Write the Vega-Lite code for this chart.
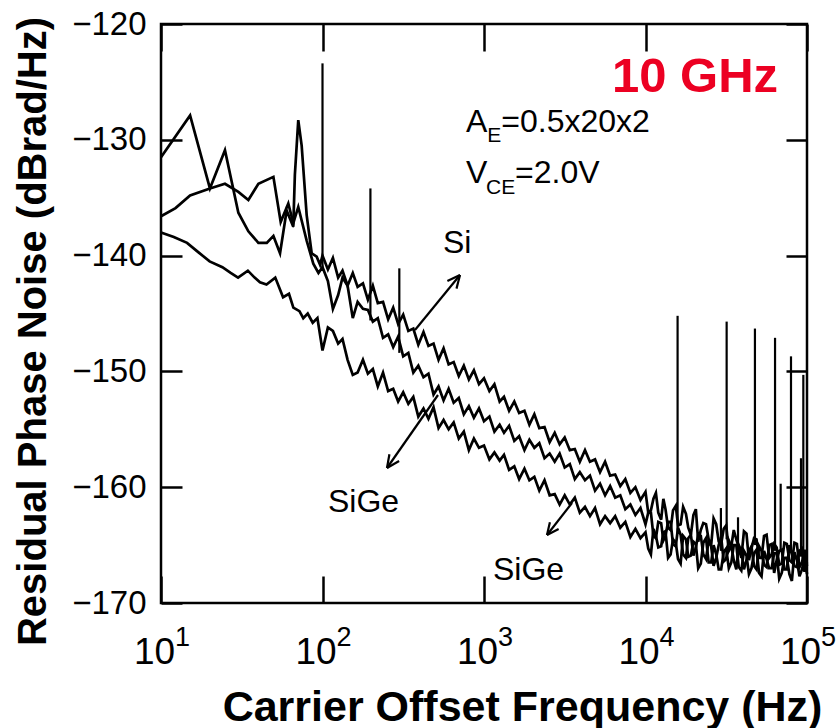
{
  "$schema": "https://vega.github.io/schema/vega-lite/v6.json",
  "width": 646,
  "height": 579,
  "autosize": {"type": "none"},
  "padding": {"left": 161, "top": 24, "right": 30, "bottom": 125},
  "background": "white",
  "config": {"view": {"stroke": "#000", "strokeWidth": 2.5}},
  "datasets": {
    "si": [
      {"f":10,"v":-131.5},{"f":15.14,"v":-127.9},{"f":20.09,"v":-134.2},{"f":24.89,"v":-130.9},{"f":30.13,"v":-136.3},{"f":34.75,"v":-137.9},{"f":40.09,"v":-138.9},{"f":45.19,"v":-138.9},{"f":49.66,"v":-138.3},{"f":54.58,"v":-139.8},{"f":59.98,"v":-136.1},{"f":65.92,"v":-137.5},{"f":67.45,"v":-133.0},{"f":70.79,"v":-128.3},{"f":74.3,"v":-130.5},{"f":79.8,"v":-136.5},{"f":85.7,"v":-139.8},{"f":92.04,"v":-140.1},{"f":96.6,"v":-140.8},
      {"f":100,"v":-140.0},{"f":108,"v":-141.2},{"f":116,"v":-140.2},{"f":125,"v":-141.9},{"f":133,"v":-141.3},{"f":143,"v":-142.6},{"f":154,"v":-141.5},{"f":165,"v":-142.7},{"f":178,"v":-142.4},{"f":191,"v":-143.8},{"f":205,"v":-142.6},{"f":220,"v":-144.1},{"f":237,"v":-144.0},{"f":255,"v":-145.5},{"f":274,"v":-144.5},{"f":294,"v":-145.9},{"f":316,"v":-145.1},{"f":340,"v":-146.5},{"f":365,"v":-146.3},{"f":392,"v":-147.7},{"f":422,"v":-146.6},{"f":453,"v":-147.8},{"f":487,"v":-147.6},{"f":523,"v":-149.0},{"f":562,"v":-148.0},{"f":604,"v":-149.4},{"f":649,"v":-149.2},{"f":698,"v":-150.4},{"f":750,"v":-149.5},{"f":806,"v":-150.7},{"f":866,"v":-149.9},{"f":931,"v":-151.1},
      {"f":1000,"v":-150.6},{"f":1080,"v":-151.7},{"f":1160,"v":-151.1},{"f":1250,"v":-152.6},{"f":1330,"v":-152.2},{"f":1430,"v":-153.4},{"f":1540,"v":-152.6},{"f":1650,"v":-153.6},{"f":1780,"v":-153.4},{"f":1910,"v":-154.6},{"f":2050,"v":-153.7},{"f":2200,"v":-154.9},{"f":2370,"v":-154.8},{"f":2550,"v":-156.1},{"f":2740,"v":-155.3},{"f":2940,"v":-156.3},{"f":3160,"v":-155.7},{"f":3400,"v":-156.8},{"f":3650,"v":-156.7},{"f":3920,"v":-157.8},{"f":4220,"v":-156.8},{"f":4530,"v":-157.8},{"f":4870,"v":-157.6},{"f":5230,"v":-158.7},{"f":5620,"v":-157.8},{"f":6040,"v":-159.0},{"f":6490,"v":-158.9},{"f":6980,"v":-159.9},{"f":7500,"v":-159.3},{"f":8060,"v":-160.5},{"f":8660,"v":-160.0},{"f":9310,"v":-161.1},
      {"f":10000,"v":-160.4},{"f":10800,"v":-162.0},{"f":11600,"v":-160.5},{"f":12500,"v":-162.8},{"f":13300,"v":-161.9},{"f":14300,"v":-163.7},{"f":15400,"v":-161.6},{"f":16500,"v":-163.2},{"f":17800,"v":-162.3},{"f":19100,"v":-164.1},{"f":20500,"v":-161.9},{"f":22000,"v":-163.7},{"f":23700,"v":-163.2},{"f":25500,"v":-165.0},{"f":27400,"v":-163.2},{"f":29400,"v":-164.9},{"f":31600,"v":-163.3},{"f":34000,"v":-165.1},{"f":36500,"v":-164.5},{"f":39200,"v":-166.1},{"f":42200,"v":-164.0},{"f":45300,"v":-165.3},{"f":48700,"v":-164.5},{"f":52300,"v":-166.1},{"f":56200,"v":-164.1},{"f":60400,"v":-165.8},{"f":64900,"v":-165.2},{"f":69800,"v":-166.6},{"f":75000,"v":-164.9},{"f":80600,"v":-166.5},{"f":86600,"v":-164.9},{"f":93100,"v":-166.5},{"f":100000,"v":-166.8},
      {"f":10400,"v":-162.2},{"f":11200,"v":-161.0},{"f":12000,"v":-162.2},{"f":12900,"v":-161.0},{"f":13800,"v":-163.5},{"f":14800,"v":-162.0},{"f":15900,"v":-163.3},{"f":17100,"v":-161.7},{"f":18400,"v":-163.5},{"f":19800,"v":-162.4},{"f":21200,"v":-164.7},{"f":22800,"v":-163.1},{"f":24600,"v":-164.5},{"f":26400,"v":-162.7},{"f":28400,"v":-164.7},{"f":30500,"v":-163.6},{"f":32800,"v":-165.5},{"f":35200,"v":-163.7},{"f":37800,"v":-165.2},{"f":40700,"v":-163.8},{"f":43700,"v":-166.3},{"f":47000,"v":-164.4},{"f":50500,"v":-166.1},{"f":54200,"v":-164.2},{"f":58300,"v":-166.1},{"f":62600,"v":-164.9},{"f":67300,"v":-166.7},{"f":72400,"v":-164.8},{"f":77800,"v":-166.3},{"f":83600,"v":-164.8},{"f":89800,"v":-166.9},{"f":96500,"v":-165.4}
    ],
    "sige1": [
      {"f":10,"v":-136.6},{"f":12.3,"v":-135.9},{"f":15.14,"v":-134.8},{"f":20.09,"v":-134.2},{"f":24.89,"v":-133.8},{"f":30.13,"v":-134.5},{"f":34.75,"v":-135.2},{"f":40.09,"v":-133.8},{"f":49.66,"v":-133.2},{"f":55.1,"v":-137.1},{"f":61.4,"v":-135.5},{"f":65.92,"v":-137.2},{"f":70.79,"v":-135.8},{"f":79.8,"v":-138.7},{"f":87.7,"v":-140.7},{"f":94.4,"v":-141.5},
      {"f":100,"v":-141.0},{"f":108,"v":-142.2},{"f":116,"v":-144.6},{"f":125,"v":-143.4},{"f":133,"v":-141.9},{"f":143,"v":-142.6},{"f":154,"v":-145.4},{"f":165,"v":-144.0},{"f":178,"v":-144.6},{"f":191,"v":-144.7},{"f":205,"v":-145.7},{"f":220,"v":-145.4},{"f":237,"v":-147.1},{"f":255,"v":-146.8},{"f":274,"v":-147.9},{"f":294,"v":-147.0},{"f":316,"v":-148.7},{"f":340,"v":-148.4},{"f":365,"v":-150.1},{"f":392,"v":-149.5},{"f":422,"v":-150.5},{"f":453,"v":-150.2},{"f":487,"v":-152.0},{"f":523,"v":-151.3},{"f":562,"v":-152.5},{"f":604,"v":-151.5},{"f":649,"v":-152.7},{"f":698,"v":-152.3},{"f":750,"v":-153.7},{"f":806,"v":-153.0},{"f":866,"v":-154.0},{"f":931,"v":-153.2},
      {"f":1000,"v":-154.3},{"f":1080,"v":-153.9},{"f":1160,"v":-155.2},{"f":1250,"v":-154.6},{"f":1330,"v":-155.3},{"f":1430,"v":-154.7},{"f":1540,"v":-156.0},{"f":1650,"v":-155.6},{"f":1780,"v":-156.8},{"f":1910,"v":-155.9},{"f":2050,"v":-156.6},{"f":2200,"v":-156.2},{"f":2370,"v":-157.5},{"f":2550,"v":-157.1},{"f":2740,"v":-157.8},{"f":2940,"v":-157.1},{"f":3160,"v":-158.3},{"f":3400,"v":-158.0},{"f":3650,"v":-159.3},{"f":3920,"v":-158.7},{"f":4220,"v":-159.4},{"f":4530,"v":-159.0},{"f":4870,"v":-160.3},{"f":5230,"v":-159.7},{"f":5620,"v":-160.7},{"f":6040,"v":-159.9},{"f":6490,"v":-160.9},{"f":6980,"v":-160.7},{"f":7500,"v":-161.9},{"f":8060,"v":-161.5},{"f":8660,"v":-162.4},{"f":9310,"v":-161.8},
      {"f":10000,"v":-163.2},{"f":10800,"v":-162.2},{"f":11600,"v":-164.4},{"f":12500,"v":-163.1},{"f":13300,"v":-164.2},{"f":14300,"v":-163.0},{"f":15400,"v":-165.1},{"f":16500,"v":-164.1},{"f":17800,"v":-166.1},{"f":19100,"v":-164.1},{"f":20500,"v":-165.2},{"f":22000,"v":-164.2},{"f":23700,"v":-166.2},{"f":25500,"v":-165.1},{"f":27400,"v":-166.1},{"f":29400,"v":-164.3},{"f":31600,"v":-166.2},{"f":34000,"v":-165.1},{"f":36500,"v":-167.1},{"f":39200,"v":-165.5},{"f":42200,"v":-166.3},{"f":45300,"v":-165.1},{"f":48700,"v":-167.1},{"f":52300,"v":-165.5},{"f":56200,"v":-166.9},{"f":60400,"v":-164.9},{"f":64900,"v":-166.3},{"f":69800,"v":-165.4},{"f":75000,"v":-167.1},{"f":80600,"v":-165.8},{"f":86600,"v":-166.9},{"f":93100,"v":-165.3},{"f":100000,"v":-166.5},
      {"f":10400,"v":-162.2},{"f":11200,"v":-164.2},{"f":12000,"v":-163.0},{"f":12900,"v":-164.6},{"f":13800,"v":-163.0},{"f":14800,"v":-164.9},{"f":15900,"v":-163.5},{"f":17100,"v":-165.8},{"f":18400,"v":-164.4},{"f":19800,"v":-165.9},{"f":21200,"v":-164.1},{"f":22800,"v":-165.8},{"f":24600,"v":-164.6},{"f":26400,"v":-166.8},{"f":28400,"v":-165.0},{"f":30500,"v":-166.4},{"f":32800,"v":-164.6},{"f":35200,"v":-166.3},{"f":37800,"v":-165.0},{"f":40700,"v":-167.1},{"f":43700,"v":-165.5},{"f":47000,"v":-166.8},{"f":50500,"v":-165.1},{"f":54200,"v":-166.7},{"f":58300,"v":-165.0},{"f":62600,"v":-167.4},{"f":67300,"v":-165.5},{"f":72400,"v":-167.1},{"f":77800,"v":-165.0},{"f":83600,"v":-166.8},{"f":89800,"v":-165.5},{"f":96500,"v":-167.3}
    ],
    "sige2": [
      {"f":10,"v":-138.0},{"f":12,"v":-138.4},{"f":14.5,"v":-138.9},{"f":17,"v":-139.7},{"f":20,"v":-140.5},{"f":24,"v":-141.0},{"f":27,"v":-141.5},{"f":30,"v":-141.9},{"f":34.5,"v":-141.3},{"f":38,"v":-141.9},{"f":41,"v":-142.3},{"f":45,"v":-142.5},{"f":51,"v":-141.9},{"f":57,"v":-143.6},{"f":62,"v":-143.3},{"f":66,"v":-144.5},{"f":72,"v":-144.8},{"f":76,"v":-145.4},{"f":81,"v":-145.0},{"f":87,"v":-145.8},{"f":93,"v":-145.4},
      {"f":100,"v":-148.2},{"f":108,"v":-146.2},{"f":116,"v":-146.5},{"f":125,"v":-147.6},{"f":133,"v":-147.2},{"f":143,"v":-149.0},{"f":154,"v":-150.3},{"f":165,"v":-150.1},{"f":178,"v":-149.0},{"f":191,"v":-150.2},{"f":205,"v":-149.8},{"f":220,"v":-151.3},{"f":237,"v":-150.1},{"f":255,"v":-151.7},{"f":274,"v":-151.5},{"f":294,"v":-152.6},{"f":316,"v":-151.8},{"f":340,"v":-152.8},{"f":365,"v":-152.2},{"f":392,"v":-153.9},{"f":422,"v":-153.2},{"f":453,"v":-154.1},{"f":487,"v":-153.1},{"f":523,"v":-154.9},{"f":562,"v":-154.2},{"f":604,"v":-155.0},{"f":649,"v":-154.4},{"f":698,"v":-155.8},{"f":750,"v":-155.2},{"f":806,"v":-156.8},{"f":866,"v":-155.8},{"f":931,"v":-156.6},
      {"f":1000,"v":-156.4},{"f":1080,"v":-157.6},{"f":1160,"v":-157.0},{"f":1250,"v":-157.7},{"f":1330,"v":-157.2},{"f":1430,"v":-158.5},{"f":1540,"v":-158.2},{"f":1650,"v":-159.3},{"f":1780,"v":-158.4},{"f":1910,"v":-159.4},{"f":2050,"v":-159.1},{"f":2200,"v":-160.3},{"f":2370,"v":-159.4},{"f":2550,"v":-160.7},{"f":2740,"v":-160.6},{"f":2940,"v":-161.5},{"f":3160,"v":-160.7},{"f":3400,"v":-161.5},{"f":3650,"v":-160.9},{"f":3920,"v":-162.2},{"f":4220,"v":-161.7},{"f":4530,"v":-162.5},{"f":4870,"v":-161.8},{"f":5230,"v":-163.2},{"f":5620,"v":-162.5},{"f":6040,"v":-163.1},{"f":6490,"v":-162.5},{"f":6980,"v":-163.5},{"f":7500,"v":-163.0},{"f":8060,"v":-164.3},{"f":8660,"v":-163.6},{"f":9310,"v":-164.4},
      {"f":10000,"v":-163.9},{"f":10800,"v":-165.8},{"f":11600,"v":-164.2},{"f":12500,"v":-165.1},{"f":13300,"v":-163.8},{"f":14300,"v":-165.8},{"f":15400,"v":-164.8},{"f":16500,"v":-166.6},{"f":17800,"v":-164.5},{"f":19100,"v":-165.9},{"f":20500,"v":-164.9},{"f":22000,"v":-166.6},{"f":23700,"v":-164.4},{"f":25500,"v":-166.5},{"f":27400,"v":-165.8},{"f":29400,"v":-167.1},{"f":31600,"v":-165.3},{"f":34000,"v":-166.5},{"f":36500,"v":-165.0},{"f":39200,"v":-167.2},{"f":42200,"v":-165.9},{"f":45300,"v":-167.0},{"f":48700,"v":-165.4},{"f":52300,"v":-167.7},{"f":56200,"v":-166.2},{"f":60400,"v":-167.0},{"f":64900,"v":-165.7},{"f":69800,"v":-167.4},{"f":75000,"v":-166.1},{"f":80600,"v":-168.1},{"f":86600,"v":-166.3},{"f":93100,"v":-167.1},{"f":100000,"v":-167.5},
      {"f":10400,"v":-165.3},{"f":11200,"v":-163.6},{"f":12000,"v":-165.2},{"f":12900,"v":-163.9},{"f":13800,"v":-166.1},{"f":14800,"v":-164.5},{"f":15900,"v":-166.2},{"f":17100,"v":-164.2},{"f":18400,"v":-166.0},{"f":19800,"v":-164.7},{"f":21200,"v":-167.0},{"f":22800,"v":-164.8},{"f":24600,"v":-166.5},{"f":26400,"v":-165.0},{"f":28400,"v":-167.1},{"f":30500,"v":-165.6},{"f":32800,"v":-167.0},{"f":35200,"v":-165.0},{"f":37800,"v":-166.9},{"f":40700,"v":-165.5},{"f":43700,"v":-167.5},{"f":47000,"v":-165.7},{"f":50500,"v":-167.4},{"f":54200,"v":-165.5},{"f":58300,"v":-167.0},{"f":62600,"v":-165.7},{"f":67300,"v":-167.9},{"f":72400,"v":-166.1},{"f":77800,"v":-167.5},{"f":83600,"v":-165.6},{"f":89800,"v":-167.7},{"f":96500,"v":-166.1}
    ],
    "spurs": [
      {"f":100,"v":-123.4,"v2":-141.0},{"f":198,"v":-134.2,"v2":-145.6},{"f":299,"v":-141.1,"v2":-148.4},
      {"f":15800,"v":-145.2,"v2":-164.0},{"f":29300,"v":-161.8,"v2":-165.5},{"f":31800,"v":-145.7,"v2":-164.5},{"f":37400,"v":-162.6,"v2":-165.8},{"f":47600,"v":-146.3,"v2":-165.0},{"f":63400,"v":-147.1,"v2":-165.5},{"f":68700,"v":-159.7,"v2":-165.5},{"f":79600,"v":-148.7,"v2":-165.5},{"f":91800,"v":-157.5,"v2":-166.0},{"f":94900,"v":-150.3,"v2":-166.0}
    ],
    "arrows": [
      {"f":373.9,"v":-146.425,"f2":710.3,"v2":-141.675},
      {"f":710.3,"v":-141.675,"f2":593.4,"v2":-142.202},
      {"f":710.3,"v":-141.675,"f2":675.5,"v2":-142.85},
      {"f":519.0,"v":-152.038,"f2":250.8,"v2":-158.342},
      {"f":250.8,"v":-158.342,"f2":298.1,"v2":-157.737},
      {"f":250.8,"v":-158.342,"f2":259.6,"v2":-157.15},
      {"f":3506,"v":-161.364,"f2":2455,"v2":-164.128},
      {"f":2455,"v":-164.128,"f2":2897,"v2":-163.618},
      {"f":2455,"v":-164.128,"f2":2559,"v2":-163.031}
    ],
    "labels": [
      {"f":557,"v":-139.78,"t":"Si"},
      {"f":108.1,"v":-162.14,"t":"SiGe"},
      {"f":1137,"v":-168.01,"t":"SiGe"},
      {"f":773.6,"v":-129.33,"t":"A"},
      {"f":1280,"v":-129.33,"t":"=0.5x20x2"},
      {"f":773.6,"v":-133.73,"t":"V"},
      {"f":1556,"v":-133.73,"t":"=2.0V"}
    ],
    "subs": [
      {"f":1048,"v":-130.19,"t":"E"},
      {"f":1029,"v":-134.68,"t":"CE"}
    ],
    "freq": [
      {"f":6203,"v":-125.87,"t":"10 GHz"}
    ]
  },
  "layer": [
    {
      "encoding": {
        "x": {
          "field": "f", "type": "quantitative",
          "scale": {"type": "log", "domain": [10, 100000], "nice": false},
          "axis": {
            "orient": "bottom", "offset": -27, "values": [10, 100, 1000, 10000, 100000],
            "labelExpr": "'10'",
            "labelFont": "Liberation Sans",
            "labelFontSize": 37, "labelColor": "#000", "labelPadding": 31, "labelOffset": -7,
            "labelFlush": false, "labelOverlap": false,
            "tickSize": 27, "tickWidth": 2.5, "tickColor": "#000",
            "domain": false, "grid": false,
            "title": "Carrier Offset Frequency (Hz)",
            "titleFont": "Liberation Sans", "titleFontWeight": "bold", "titleFontSize": 43, "titleColor": "#000",
            "titleX": 361, "titleY": 144, "titleAlign": "center", "titleBaseline": "alphabetic"
          }
        },
        "y": {
          "field": "v", "type": "quantitative",
          "scale": {"domain": [-170, -120], "nice": false, "zero": false},
          "axis": {
            "orient": "left", "offset": -21, "values": [-170, -160, -150, -140, -130, -120], "format": "d",
            "labelFont": "Liberation Sans",
            "labelFontSize": 33, "labelColor": "#000", "labelPadding": 15,
            "labelFlush": false, "labelOverlap": false,
            "tickSize": 21, "tickWidth": 2.5, "tickColor": "#000",
            "domain": false, "grid": false,
            "title": "Residual Phase Noise (dBrad/Hz)",
            "titleFont": "Liberation Sans", "titleFontWeight": "bold", "titleFontSize": 40, "titleColor": "#000",
            "titleX": -149, "titleY": 307, "titleAngle": -90, "titleAlign": "center", "titleBaseline": "middle"
          }
        }
      },
      "layer": [
        {"data": {"name": "si"}, "mark": {"type": "line", "color": "#000", "strokeWidth": 2.7}},
        {"data": {"name": "sige1"}, "mark": {"type": "line", "color": "#000", "strokeWidth": 2.7}},
        {"data": {"name": "sige2"}, "mark": {"type": "line", "color": "#000", "strokeWidth": 2.7}},
        {"data": {"name": "spurs"}, "mark": {"type": "rule", "color": "#000", "strokeWidth": 2.2},
         "encoding": {"y2": {"field": "v2"}}},
        {"data": {"name": "arrows"}, "mark": {"type": "rule", "color": "#000", "strokeWidth": 2.2},
         "encoding": {"x2": {"field": "f2"}, "y2": {"field": "v2"}}},
        {"data": {"name": "labels"}, "mark": {"type": "text", "align": "left", "baseline": "alphabetic", "font": "Liberation Sans", "fontSize": 32, "color": "#000"},
         "encoding": {"text": {"field": "t"}}},
        {"data": {"name": "subs"}, "mark": {"type": "text", "align": "left", "baseline": "alphabetic", "font": "Liberation Sans", "fontSize": 21, "color": "#000"},
         "encoding": {"text": {"field": "t"}}},
        {"data": {"name": "freq"}, "mark": {"type": "text", "align": "left", "baseline": "alphabetic", "font": "Liberation Sans", "fontWeight": "bold", "fontSize": 49, "color": "#ec0022"},
         "encoding": {"text": {"field": "t"}}}
      ]
    },
    {
      "data": {"values": [{"f": 10, "v": -170}]},
      "mark": {"type": "point", "opacity": 0},
      "encoding": {
        "x": {
          "field": "f", "type": "quantitative",
          "scale": {"type": "log", "domain": [10, 100000], "nice": false},
          "axis": {"orient": "top", "offset": -27, "values": [10, 100, 1000, 10000, 100000], "labels": false, "title": null,
                   "tickSize": 27, "tickWidth": 2.5, "tickColor": "#000", "domain": false, "grid": false}
        },
        "y": {
          "field": "v", "type": "quantitative",
          "scale": {"domain": [-170, -120], "nice": false, "zero": false},
          "axis": {"orient": "right", "offset": -21, "values": [-170, -160, -150, -140, -130, -120], "labels": false, "title": null,
                   "tickSize": 21, "tickWidth": 2.5, "tickColor": "#000", "domain": false, "grid": false}
        }
      }
    },
    {
      "data": {"values": [{"f": 10, "v": -170}]},
      "mark": {"type": "point", "opacity": 0},
      "encoding": {
        "x": {
          "field": "f", "type": "quantitative",
          "scale": {"type": "log", "domain": [10, 100000], "nice": false},
          "axis": {"orient": "bottom", "offset": 0, "values": [10, 100, 1000, 10000, 100000],
                   "labelExpr": "'' + round(log(datum.value)/LN10)",
                   "labelFont": "Liberation Sans", "labelFontSize": 27, "labelColor": "#000",
                   "labelPadding": 21, "labelOffset": 21, "labelFlush": false, "labelOverlap": false,
                   "ticks": false, "title": null, "domain": false, "grid": false}
        },
        "y": {
          "field": "v", "type": "quantitative",
          "scale": {"domain": [-170, -120], "nice": false, "zero": false},
          "axis": null
        }
      }
    }
  ],
  "resolve": {"axis": {"x": "independent", "y": "independent"}}
}
